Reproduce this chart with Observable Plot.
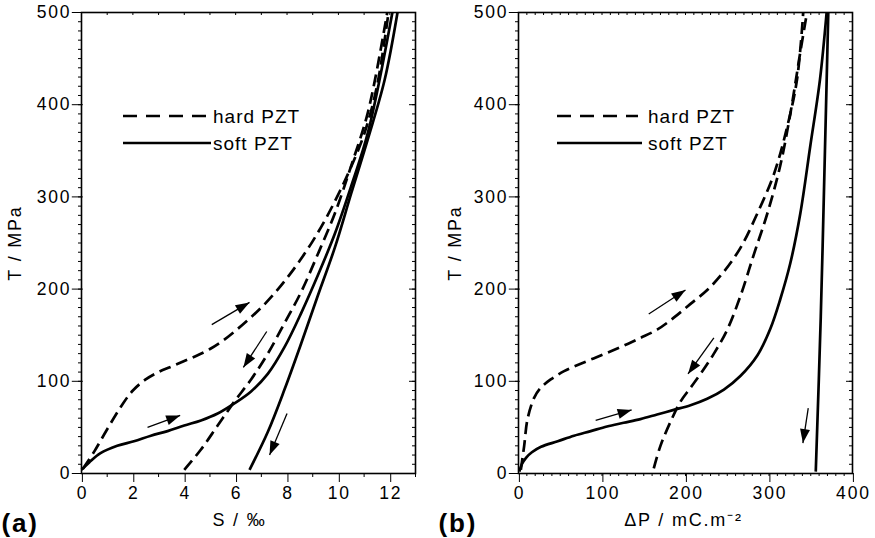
<!DOCTYPE html>
<html><head><meta charset="utf-8">
<script src="https://cdn.jsdelivr.net/npm/d3@7"></script>
<script src="https://cdn.jsdelivr.net/npm/@observablehq/plot@0.6"></script>
<style>
body{margin:0;background:#fff;}
#wrap{position:relative;width:875px;height:538px;overflow:hidden;background:#fff;font-family:"Liberation Sans",Arial,sans-serif;}
#wrap .panel{position:absolute;top:0;}
#wrap svg text{letter-spacing:1.8px;}
#wrap svg.leg{position:absolute;left:0;top:0;pointer-events:none;}
#wrap svg.leg text{letter-spacing:1px;font-size:19px;}
</style></head><body><div id="wrap"></div>
<script>
const FONT = '"Liberation Sans", Arial, sans-serif';

// ---- tick labels ----
const T_TICKS = [0, 100, 200, 300, 400, 500];
const S_TICKS = [0, 2, 4, 6, 8, 10, 12];
const S_MID_TICKS = [1, 3, 5, 7, 9, 11, 13];
const P_TICKS = [0, 100, 200, 300, 400];

// ---- panel (a): T (MPa) vs S (‰) ----
const hardLoadA_S = [0.05, 0.5, 1.0, 1.5, 2.0, 2.5, 3.0, 3.5, 4.0, 4.5, 5.0, 5.5, 6.0, 6.5, 7.0, 7.5, 8.0, 8.5, 9.0, 9.5, 10.0, 10.5, 11.0, 11.5, 11.95];
const hardLoadA_T = [5, 24, 48, 71, 90, 102, 110, 116, 122, 128, 135, 144, 155, 167, 180, 195, 212, 231, 252, 276, 303, 333, 368, 420, 500];
const hardUnloadA_S = [4.0, 4.65, 5.3, 5.95, 6.6, 7.25, 7.9, 8.55, 9.2, 9.86, 10.5, 11.16, 11.9];
const hardUnloadA_T = [4, 26, 52, 78, 102, 130, 163, 197, 238, 282, 334, 393, 500];
const softLoadA_S = [0, 0.3, 0.74, 1.39, 2.04, 2.7, 3.35, 4.0, 4.65, 5.3, 5.95, 6.6, 7.25, 7.9, 8.55, 9.2, 9.86, 10.5, 11.16, 12.1];
const softLoadA_T = [4, 12, 22, 30, 35, 41, 46, 52, 57.5, 65, 76, 89, 108, 137, 174, 215, 260, 312, 371, 500];
const softUnloadA_S = [6.54, 7.25, 7.9, 8.55, 9.2, 9.86, 10.5, 11.16, 11.8, 12.3];
const softUnloadA_T = [4, 45, 91, 141, 193, 245, 304, 364, 427, 500];
// arrows (from -> to)
const arrowA_x1 = [5.07, 7.21, 2.57, 8.0];
const arrowA_y1 = [161.5, 154, 50, 65];
const arrowA_x2 = [6.54, 6.3, 3.84, 7.32];
const arrowA_y2 = [185.6, 115, 63, 20];

// ---- panel (b): T (MPa) vs ΔP (mC.m-2) ----
const hardLoadB_P = [2.8, 6.8, 10.8, 18.7, 26.7, 38.6, 54.6, 74.5, 98.4, 122, 146, 166, 186, 206, 226, 246, 266, 286, 306, 321.5, 333.5, 341];
const hardLoadB_T = [4, 30, 59, 82, 93, 102, 111, 119, 128, 137, 147, 156, 169, 184, 199, 219, 245, 282, 325, 375, 427, 500];
const hardUnloadB_P = [162, 170, 182, 194, 206, 218, 234, 250, 266, 282, 298, 313.5, 325.5, 337.5, 345.5];
const hardUnloadB_T = [5.6, 30, 56, 78, 93, 108, 130, 156, 193, 238, 282, 334, 390, 457, 500];
const softLoadB_P = [1, 4, 9, 16, 27, 47, 66.5, 86.5, 106, 126, 146, 166, 186, 206, 226, 246, 266, 286, 301.6, 313.5, 325.5, 337.5, 349.4, 361, 369];
const softLoadB_T = [2, 10, 17, 23, 29, 35, 41, 46, 51, 55, 59, 64, 69, 74, 81, 91, 106, 128, 157, 189, 228, 282, 355, 427, 500];
const softUnloadB_P = [356, 362, 367, 371];
const softUnloadB_T = [2, 170, 350, 500];
const arrowB_x1 = [156, 234, 92.4, 347];
const arrowB_y1 = [173, 147, 57.5, 71];
const arrowB_x2 = [200, 203, 135.5, 340.6];
const arrowB_y2 = [199, 108, 69, 33];

const legendItems = [{label: "hard PZT", dashed: true}, {label: "soft PZT", dashed: false}];

const pts = (xs, ys) => xs.map((x, i) => ({x, y: ys[i]}));
const arrows = (x1, y1, x2, y2) => x1.map((_, i) => ({x1: x1[i], y1: y1[i], x2: x2[i], y2: y2[i]}));

const headSymbol = {draw(ctx) { ctx.moveTo(0, 0); ctx.lineTo(5, 14); ctx.lineTo(-5, 14); ctx.closePath(); }};

function panel(c) {
  const W = c.width, H = 538, mt = 12, mb = 65, ml = 81, mr = c.mr;
  const fw = W - ml - mr, fh = H - mt - mb;
  const yMinor = d3.range(0, 501, 10);
  const build = (heads) => Plot.plot({
    width: W, height: H, marginLeft: ml, marginRight: mr, marginTop: mt, marginBottom: mb,
    x: {domain: c.xDomain, label: null},
    y: {domain: [0, 500], label: null},
    style: {fontFamily: FONT, fontSize: "17.5px", color: "black", background: "transparent", overflow: "visible"},
    marks: [
      Plot.ruleY(yMinor, {insetLeft: fw - 3, stroke: "black", strokeWidth: 1}),
      Plot.ruleY(T_TICKS, {insetLeft: fw - 6, stroke: "black", strokeWidth: 1}),
      Plot.ruleX(c.topTicks, {insetBottom: fh - 3, stroke: "black", strokeWidth: 1}),
      Plot.axisY({ticks: yMinor, tickSize: 3, tickFormat: () => "", label: null}),
      Plot.axisY({ticks: T_TICKS, tickSize: 11, tickPadding: 1, dx: 1.8, label: null, fontSize: 17.5, tickFormat: d => String(d)}),
      ...(c.xMid ? [Plot.axisX({ticks: c.xMid, tickSize: 4, tickFormat: () => "", label: null})] : []),
      ...(c.xMinor ? [Plot.axisX({ticks: c.xMinor, tickSize: 3, tickFormat: () => "", label: null})] : []),
      Plot.axisX({ticks: c.xTicks, tickSize: 9, tickPadding: 4, dx: 0.9, label: null, fontSize: 17.5, tickFormat: d => String(d)}),
      ...c.curves.map(cv => Plot.line(cv.data, {x: "x", y: "y", curve: "catmull-rom", stroke: "black",
        strokeWidth: 2.7, strokeDasharray: cv.dashed ? "12,6" : null, strokeLinecap: "butt"})),
      Plot.link(c.arrows, {x1: "x1", y1: "y1", x2: "x2", y2: "y2", stroke: "black", strokeWidth: 1.3}),
      ...heads,
      Plot.frame({stroke: "black", strokeWidth: 1.6}),
      Plot.text([c.yTitle], {frameAnchor: "left", rotate: -90, dx: c.yTitleDx, textAnchor: "middle", lineAnchor: "middle", fontSize: 18}),
      Plot.text([c.xTitle], {frameAnchor: "bottom", dx: c.xTitleDx, dy: 52, lineAnchor: "bottom", fontSize: 18}),
      Plot.text([c.letter], {frameAnchor: "bottom-left", dx: -80, dy: 58, textAnchor: "start", lineAnchor: "bottom", fontWeight: "bold", fontSize: 26})
    ]
  });
  const first = build([]);
  const sx = first.scale("x"), sy = first.scale("y");
  const fx = d3.scaleLinear(sx.domain, sx.range), fy = d3.scaleLinear(sy.domain, sy.range);
  const withAngle = c.arrows.map(a => {
    const dx = fx(a.x2) - fx(a.x1), dy = fy(a.y2) - fy(a.y1);
    return {...a, angle: Math.atan2(dx, -dy) * 180 / Math.PI};
  });
  const svg = build([Plot.dot(withAngle, {x: "x2", y: "y2", rotate: "angle", symbol: headSymbol, r: 5, fill: "black", stroke: "none"})]);
  svg.classList.add("panel");
  svg.style.left = c.left + "px";
  return svg;
}

const wrap = document.getElementById("wrap");
wrap.appendChild(panel({
  left: 0, width: 437, mr: 22, xDomain: [0, 13],
  xTicks: S_TICKS, xMid: S_MID_TICKS, xMinor: null, topTicks: d3.range(1, 13, 1),
  curves: [
    {data: pts(hardLoadA_S, hardLoadA_T), dashed: true},
    {data: pts(hardUnloadA_S, hardUnloadA_T), dashed: true},
    {data: pts(softLoadA_S, softLoadA_T), dashed: false},
    {data: pts(softUnloadA_S, softUnloadA_T), dashed: false}
  ],
  arrows: arrows(arrowA_x1, arrowA_y1, arrowA_x2, arrowA_y2),
  yTitle: "T / MPa", yTitleDx: -66, xTitle: "S / ‰", xTitleDx: -9, letter: "(a)"
}));
wrap.appendChild(panel({
  left: 437, width: 438, mr: 23, xDomain: [0, 400],
  xTicks: P_TICKS, xMid: null, xMinor: d3.range(10, 400, 10), topTicks: d3.range(10, 400, 10),
  curves: [
    {data: pts(hardLoadB_P, hardLoadB_T), dashed: true},
    {data: pts(hardUnloadB_P, hardUnloadB_T), dashed: true},
    {data: pts(softLoadB_P, softLoadB_T), dashed: false},
    {data: pts(softUnloadB_P, softUnloadB_T), dashed: false}
  ],
  arrows: arrows(arrowB_x1, arrowB_y1, arrowB_x2, arrowB_y2),
  yTitle: "T / MPa", yTitleDx: -63, xTitle: "ΔP / mC.m⁻²", xTitleDx: -2, letter: "(b)"
}));

// legends (one per panel)
const NS = "http://www.w3.org/2000/svg";
const leg = document.createElementNS(NS, "svg");
leg.setAttribute("class", "leg"); leg.setAttribute("width", 875); leg.setAttribute("height", 538);
const legendPlaces = [{x0: 123, x1: 207, tx: 213}, {x0: 557, x1: 638, tx: 648}];
const rowY = [116, 143];
legendPlaces.forEach(pl => {
  legendItems.forEach((it, i) => {
    const ln = document.createElementNS(NS, "line");
    ln.setAttribute("x1", pl.x0); ln.setAttribute("x2", it.dashed ? pl.x1 : pl.x1 + 4);
    ln.setAttribute("y1", rowY[i]); ln.setAttribute("y2", rowY[i]);
    ln.setAttribute("stroke", "black"); ln.setAttribute("stroke-width", 2.7);
    if (it.dashed) ln.setAttribute("stroke-dasharray", "14,9");
    leg.appendChild(ln);
    const t = document.createElementNS(NS, "text");
    t.setAttribute("x", pl.tx); t.setAttribute("y", rowY[i] + 7);
    t.setAttribute("font-family", FONT);
    t.textContent = it.label;
    leg.appendChild(t);
  });
});
wrap.appendChild(leg);
</script></body></html>
